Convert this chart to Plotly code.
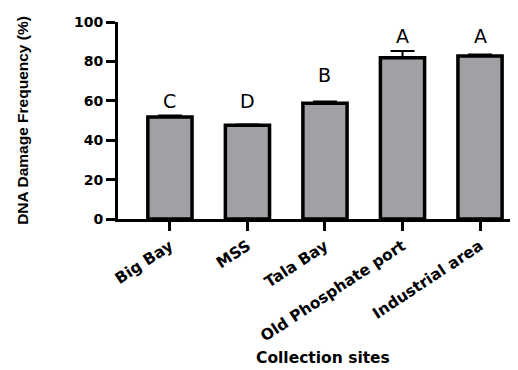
import plotly.graph_objects as go

sites = ["Big Bay", "MSS", "Tala Bay", "Old Phosphate port", "Industrial area"]
means = [51.8, 47.6, 58.8, 81.8, 82.7]
errors = [0.8, 0.4, 0.8, 3.5, 0.8]
letters = ["C", "D", "B", "A", "A"]
letter_y = [60, 60, 73, 93, 93]

wide = "DejaVu Sans, Verdana, sans-serif"
narrow = "Liberation Sans, Arial, sans-serif"

fig = go.Figure()
fig.add_trace(go.Bar(
    x=list(range(len(sites))), y=means, width=0.57,
    marker=dict(color="#a1a0a5", line=dict(color="black", width=3.5)),
    error_y=dict(type="data", array=errors, arrayminus=[0]*len(errors), symmetric=False,
                 color="black", thickness=2, width=12),
))
for i, (l, ly) in enumerate(zip(letters, letter_y)):
    fig.add_annotation(x=i, y=ly, text=l, showarrow=False,
                       font=dict(family=wide, size=19, color="black"))

fig.add_annotation(xref="paper", yref="paper", x=0.5125, y=-0.705, xanchor="center", yanchor="middle",
                   text="<b>Collection sites</b>", showarrow=False, borderpad=0,
                   font=dict(family=wide, size=15.5, color="black"))

fig.update_layout(
    width=510, height=362,
    margin=dict(l=110, r=0, t=14, b=151),
    paper_bgcolor="white", plot_bgcolor="white",
    showlegend=False,
)
fig.update_xaxes(
    range=[-0.67, 4.49], tickmode="array", tickvals=list(range(len(sites))), ticktext=["<b>%s</b>" % s for s in sites],
    tickangle=-33.5, ticks="outside", ticklen=9, tickwidth=3, tickcolor="black",
    showline=True, linewidth=3, linecolor="black", showgrid=False, zeroline=False,
    tickfont=dict(family=wide, size=15.5, color="black"), automargin=False,
)
fig.update_yaxes(
    range=[0, 100], tickvals=[0, 20, 40, 60, 80, 100], ticktext=["<b>%d</b>" % v for v in [0, 20, 40, 60, 80, 100]],
    ticks="outside", ticklen=9, tickwidth=3, tickcolor="black",
    showline=True, linewidth=3, linecolor="black", showgrid=False, zeroline=False,
    tickfont=dict(family=wide, size=14, color="black"), automargin=False,
    title=dict(text="<b>DNA Damage Frequency (%)</b>", font=dict(family=narrow, size=15.5, color="black"), standoff=42),
)
fig.write_html("out.html")
